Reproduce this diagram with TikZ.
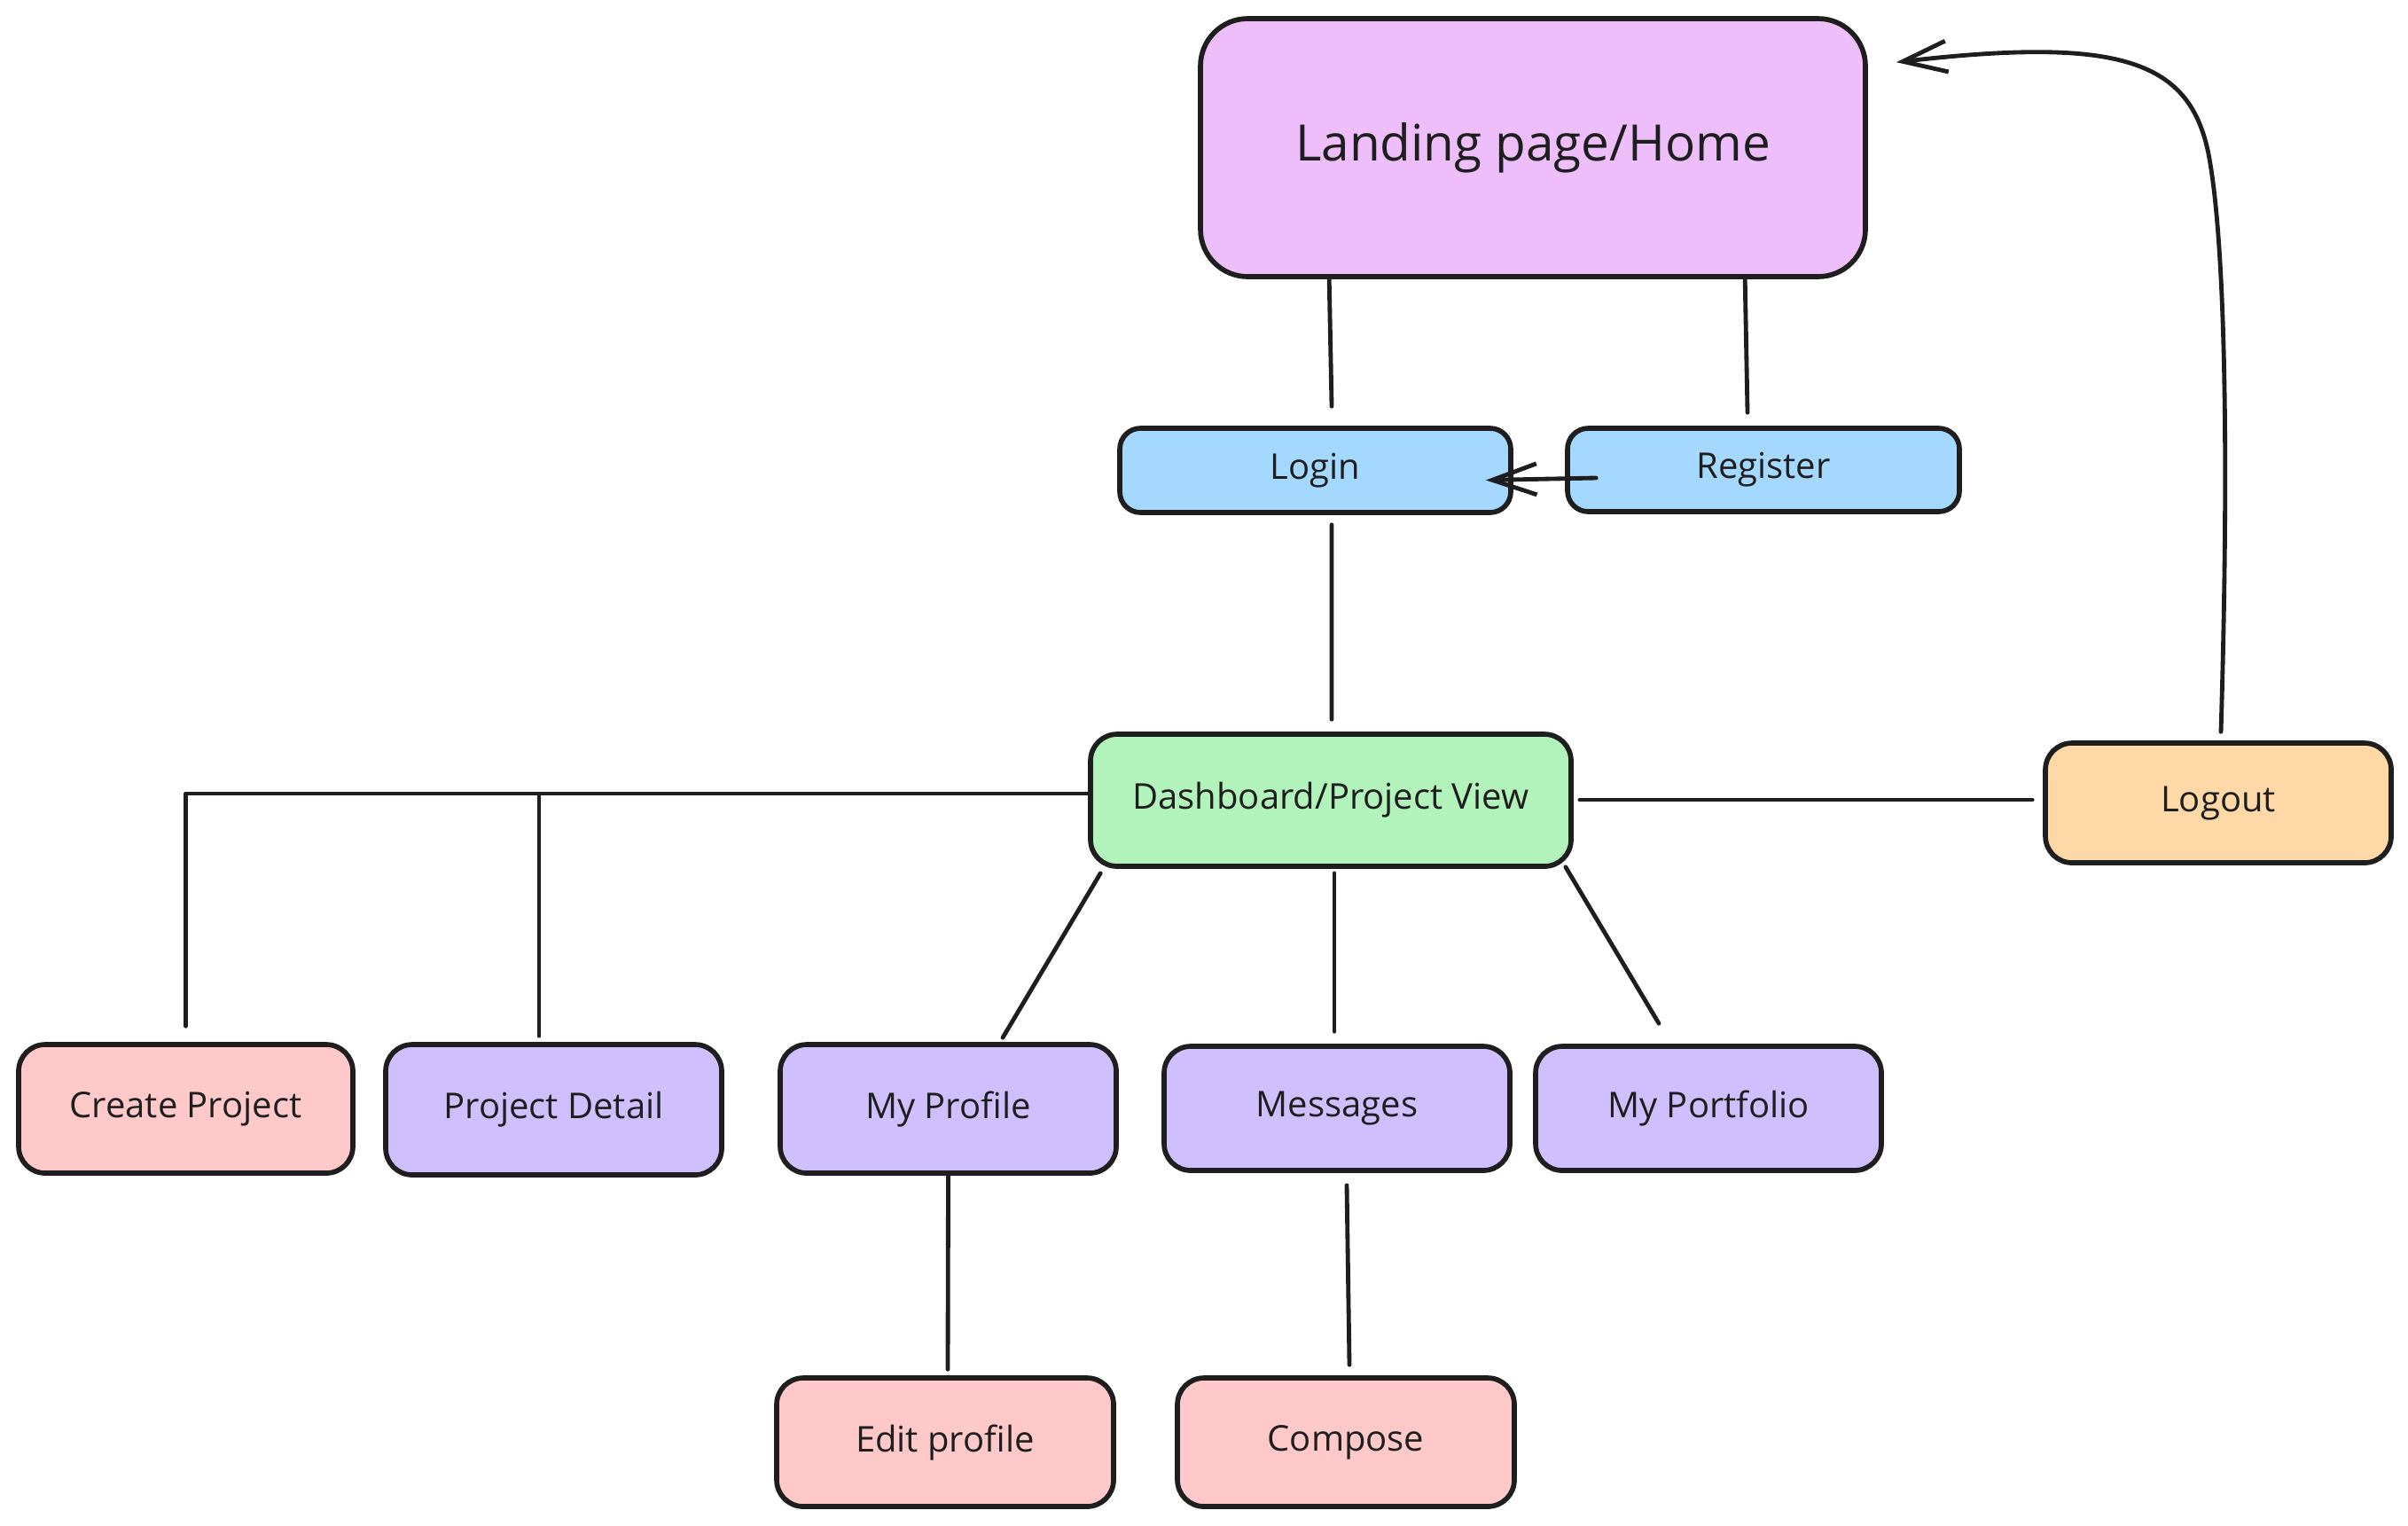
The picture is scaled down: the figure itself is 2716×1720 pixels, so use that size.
\documentclass[tikz,border=0pt]{standalone}
\usepackage{fontspec}
\setmainfont{Open Sans}
\usetikzlibrary{arrows.meta,calc}
\definecolor{ink}{HTML}{1E1E1E}
\definecolor{cland}{HTML}{EEBEFA}
\definecolor{cblue}{HTML}{A5D8FF}
\definecolor{cgreen}{HTML}{B2F2BB}
\definecolor{corange}{HTML}{FFD8A8}
\definecolor{cred}{HTML}{FFC9C9}
\definecolor{cviolet}{HTML}{D0BFFF}
\begin{document}
\begin{tikzpicture}[x=0.3pt,y=-0.3pt,
  box/.style={draw=ink,line width=1.7pt,rounded corners=9pt,inner sep=0pt,align=center,
    font=\fontsize{12}{14}\selectfont,text=ink},
  conn/.style={draw=ink,line width=1.45pt,line cap=round,line join=round},
  barb/.style={-{Straight Barb[length=15pt,width=10.5pt]}}
]
\useasboundingbox (0,0) rectangle (2716,1720);

\node[box,fill=cland,minimum width=225pt,minimum height=87.3pt,rounded corners=16pt,
  font=\fontsize{17}{20}\selectfont] (land) at (1729,166.5) {Landing page/Home};
\node[box,fill=cblue,minimum width=132.3pt,minimum height=28.5pt,rounded corners=7pt] (login) at (1483.5,530.5) {Login};
\node[box,fill=cblue,minimum width=132.6pt,minimum height=28.2pt,rounded corners=7pt] (register) at (1989,530) {Register};
\node[box,fill=cgreen,minimum width=162.6pt,minimum height=44.7pt] (dash) at (1501,902.5) {Dashboard/Project View};
\node[box,fill=corange,minimum width=117pt,minimum height=40.5pt] (logout) at (2502,905.5) {Logout};
\node[box,fill=cred,minimum width=113.1pt,minimum height=43.5pt] (create) at (209.5,1250.5) {Create Project};
\node[box,fill=cviolet,minimum width=113.7pt,minimum height=44.1pt] (pdetail) at (624.5,1251.5) {Project Detail};
\node[box,fill=cviolet,minimum width=113.7pt,minimum height=43.5pt] (profile) at (1069.5,1250.5) {My Profile};
\node[box,fill=cviolet,minimum width=117pt,minimum height=42pt] (messages) at (1508,1250) {Messages};
\node[box,fill=cviolet,minimum width=117pt,minimum height=42pt] (portfolio) at (1927,1250) {My Portfolio};
\node[box,fill=cred,minimum width=114pt,minimum height=43.5pt] (edit) at (1066,1626.5) {Edit profile};
\node[box,fill=cred,minimum width=114pt,minimum height=43.5pt] (compose) at (1518,1626.5) {Compose};

% connectors
\draw[conn] ($(land.south west)+(148,0)$) -- ($(login.north)+(18.5,-22)$);
\draw[conn] ($(land.south west)+(617,0)$) -- ($(register.north)+(-18,-15)$);
\draw[conn,barb] ($(register.west)+(35,9)$) -- ($(login.east)+(-31,11)$);
\draw[conn] ($(login.south)+(18.5,11)$) -- ($(dash.north)+(1,-14)$);
\draw[conn] ($(dash.east)+(7,-0.5)$) -- ($(logout.west)+(-12,-3.5)$);
\draw[conn] ($(dash.west)+(0,-7.5)$) -| ($(create.north)+(0,-18)$);
\draw[conn] ($(pdetail.north)+(-16.5,-7)$) |- ($(dash.west)+(0,-7.5)$);
\draw[conn] ($(dash.south west)+(14,5)$) -- ($(profile.north)+(61.5,-5)$);
\draw[conn] ($(dash.south)+(4,5)$) -- ($(messages.north)+(-3,-14)$);
\draw[conn] ($(dash.south east)+(-9,-2)$) -- ($(portfolio.north)+(-56,-23)$);
\draw[conn] (profile.south) -- ($(edit.north)+(3,-7)$);
\draw[conn] ($(messages.south)+(11,14)$) -- ($(compose.north)+(4,-12)$);
\draw[conn,barb] ($(logout.north)+(3,-10)$) .. controls (2513,560) and (2512,300) .. (2493,185)
  .. controls (2475,70) and (2400,40) .. ($(land.north east)+(32,52)$);
\end{tikzpicture}
\end{document}
